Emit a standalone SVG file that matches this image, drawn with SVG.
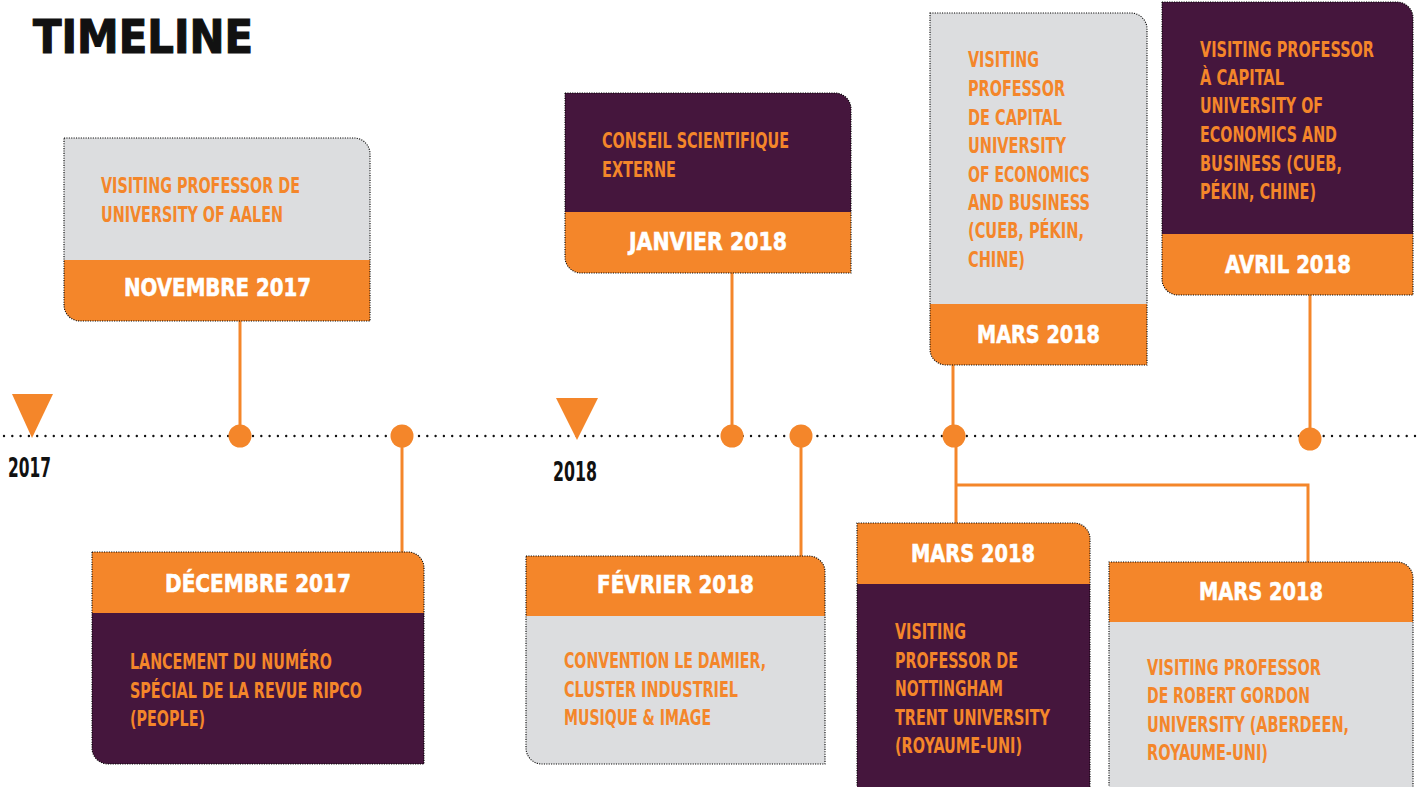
<svg xmlns="http://www.w3.org/2000/svg" width="1423" height="787" viewBox="0 0 1423 787">
<style>
.grey{fill:#DCDDDF}
.purple{fill:#45163D}
.orange{fill:#F4862A}
.border{fill:none;stroke:#000000;stroke-width:1.1;stroke-dasharray:1.1 1.3}
.body{font-family:"Liberation Sans Narrow","DejaVu Sans Condensed","Liberation Sans",sans-serif;font-stretch:condensed;font-weight:bold;font-size:22px;fill:#F4862A}
.date{font-family:"DejaVu Sans","Liberation Sans",sans-serif;font-weight:bold;font-size:24px;fill:#FFFFFF;stroke:#FFFFFF;stroke-width:0.6}
.year{font-family:"Liberation Sans Narrow","DejaVu Sans Condensed","Liberation Sans",sans-serif;font-stretch:condensed;font-weight:bold;font-size:26px;fill:#111111}
.title{font-family:"DejaVu Sans","Liberation Sans",sans-serif;font-weight:bold;font-size:46px;fill:#111111;stroke:#111111;stroke-width:1.2}
.conn{stroke:#F4862A;stroke-width:3;fill:none}
.dot{fill:#F4862A}
.axis{stroke:#111111;stroke-width:2.4;stroke-linecap:round;stroke-dasharray:0 8.3;fill:none}
</style>
<rect width="1423" height="787" fill="#FFFFFF"/>
<text class="title" x="33" y="53" textLength="220" lengthAdjust="spacingAndGlyphs">TIMELINE</text>

<g id="axis">
<line class="axis" x1="4" y1="436" x2="1423" y2="436"/>
<polygon class="dot" points="12,394 53,394 32,438"/>
<polygon class="dot" points="556,398 598,398 577,440"/>
<text class="year" x="8" y="477" textLength="43" lengthAdjust="spacingAndGlyphs">2017</text>
<text class="year" x="553" y="481" textLength="44" lengthAdjust="spacingAndGlyphs">2018</text>
</g>

<g id="connectors">
<line class="conn" x1="240" y1="321" x2="240" y2="436"/>
<line class="conn" x1="402" y1="436" x2="402" y2="552"/>
<line class="conn" x1="732" y1="273" x2="732" y2="436"/>
<line class="conn" x1="801" y1="436" x2="801" y2="556"/>
<line class="conn" x1="953" y1="365" x2="953" y2="436"/>
<polyline class="conn" points="956,436 956,523"/>
<polyline class="conn" points="956,485 1308,485 1308,562"/>
<line class="conn" x1="1310" y1="295" x2="1310" y2="439"/>
<circle class="dot" cx="240" cy="436" r="11.5"/>
<circle class="dot" cx="402" cy="436" r="11.5"/>
<circle class="dot" cx="732" cy="436" r="11.5"/>
<circle class="dot" cx="801" cy="436" r="11.5"/>
<circle class="dot" cx="954" cy="436" r="11.5"/>
<circle class="dot" cx="1310" cy="439" r="11.5"/>
</g>

<g id="nov2017">
<path class="grey" d="M64 138 H354 A16 16 0 0 1 370 154 V260 H64 Z"/>
<path class="orange" d="M64 260 H370 V321 H80 A16 16 0 0 1 64 305 Z"/>
<path class="border" d="M64 138 H354 A16 16 0 0 1 370 154 V321 H80 A16 16 0 0 1 64 305 Z"/>
<text class="body" x="101" y="193" textLength="199" lengthAdjust="spacingAndGlyphs">VISITING PROFESSOR DE</text>
<text class="body" x="101" y="222" textLength="182" lengthAdjust="spacingAndGlyphs">UNIVERSITY OF AALEN</text>
<text class="date" x="124" y="296" textLength="187" lengthAdjust="spacingAndGlyphs">NOVEMBRE 2017</text>
</g>

<g id="dec2017">
<path class="orange" d="M92 552 H408 A16 16 0 0 1 424 568 V613 H92 Z"/>
<path class="purple" d="M92 613 H424 V764 H108 A16 16 0 0 1 92 748 Z"/>
<path class="border" d="M92 552 H408 A16 16 0 0 1 424 568 V764 H108 A16 16 0 0 1 92 748 Z"/>
<text class="date" x="165" y="592" textLength="186" lengthAdjust="spacingAndGlyphs">DÉCEMBRE 2017</text>
<text class="body" x="130" y="669" textLength="202" lengthAdjust="spacingAndGlyphs">LANCEMENT DU NUMÉRO</text>
<text class="body" x="130" y="698" textLength="232" lengthAdjust="spacingAndGlyphs">SPÉCIAL DE LA REVUE RIPCO</text>
<text class="body" x="130" y="726" textLength="75" lengthAdjust="spacingAndGlyphs">(PEOPLE)</text>
</g>

<g id="jan2018">
<path class="purple" d="M565 93 H835 A16 16 0 0 1 851 109 V212 H565 Z"/>
<path class="orange" d="M565 212 H851 V273 H581 A16 16 0 0 1 565 257 Z"/>
<path class="border" d="M565 93 H835 A16 16 0 0 1 851 109 V273 H581 A16 16 0 0 1 565 257 Z"/>
<text class="body" x="602" y="148" textLength="187" lengthAdjust="spacingAndGlyphs">CONSEIL SCIENTIFIQUE</text>
<text class="body" x="602" y="177" textLength="74" lengthAdjust="spacingAndGlyphs">EXTERNE</text>
<text class="date" x="629" y="250" textLength="158" lengthAdjust="spacingAndGlyphs">JANVIER 2018</text>
</g>

<g id="feb2018">
<path class="orange" d="M526 556 H809 A16 16 0 0 1 825 572 V616 H526 Z"/>
<path class="grey" d="M526 616 H825 V764 H542 A16 16 0 0 1 526 748 Z"/>
<path class="border" d="M526 556 H809 A16 16 0 0 1 825 572 V764 H542 A16 16 0 0 1 526 748 Z"/>
<text class="date" x="597" y="593" textLength="157" lengthAdjust="spacingAndGlyphs">FÉVRIER 2018</text>
<text class="body" x="564" y="668" textLength="202" lengthAdjust="spacingAndGlyphs">CONVENTION LE DAMIER,</text>
<text class="body" x="564" y="697" textLength="174" lengthAdjust="spacingAndGlyphs">CLUSTER INDUSTRIEL</text>
<text class="body" x="564" y="725" textLength="147" lengthAdjust="spacingAndGlyphs">MUSIQUE &amp; IMAGE</text>
</g>

<g id="mar2018-cueb">
<path class="grey" d="M930 13 H1131 A16 16 0 0 1 1147 29 V304 H930 Z"/>
<path class="orange" d="M930 304 H1147 V365 H946 A16 16 0 0 1 930 349 Z"/>
<path class="border" d="M930 13 H1131 A16 16 0 0 1 1147 29 V365 H946 A16 16 0 0 1 930 349 Z"/>
<text class="body" x="968" y="67" textLength="71" lengthAdjust="spacingAndGlyphs">VISITING</text>
<text class="body" x="968" y="96" textLength="97" lengthAdjust="spacingAndGlyphs">PROFESSOR</text>
<text class="body" x="968" y="125" textLength="94" lengthAdjust="spacingAndGlyphs">DE CAPITAL</text>
<text class="body" x="968" y="153" textLength="98" lengthAdjust="spacingAndGlyphs">UNIVERSITY</text>
<text class="body" x="968" y="182" textLength="122" lengthAdjust="spacingAndGlyphs">OF ECONOMICS</text>
<text class="body" x="968" y="210" textLength="122" lengthAdjust="spacingAndGlyphs">AND BUSINESS</text>
<text class="body" x="968" y="238" textLength="116" lengthAdjust="spacingAndGlyphs">(CUEB, PÉKIN,</text>
<text class="body" x="968" y="267" textLength="57" lengthAdjust="spacingAndGlyphs">CHINE)</text>
<text class="date" x="977" y="343" textLength="123" lengthAdjust="spacingAndGlyphs">MARS 2018</text>
</g>

<g id="apr2018">
<path class="purple" d="M1162 2 H1397 A16 16 0 0 1 1413 18 V234 H1162 Z"/>
<path class="orange" d="M1162 234 H1413 V295 H1178 A16 16 0 0 1 1162 279 Z"/>
<path class="border" d="M1162 2 H1397 A16 16 0 0 1 1413 18 V295 H1178 A16 16 0 0 1 1162 279 Z"/>
<text class="body" x="1200" y="57" textLength="174" lengthAdjust="spacingAndGlyphs">VISITING PROFESSOR</text>
<text class="body" x="1200" y="85" textLength="84" lengthAdjust="spacingAndGlyphs">À CAPITAL</text>
<text class="body" x="1200" y="113" textLength="123" lengthAdjust="spacingAndGlyphs">UNIVERSITY OF</text>
<text class="body" x="1200" y="142" textLength="137" lengthAdjust="spacingAndGlyphs">ECONOMICS AND</text>
<text class="body" x="1200" y="171" textLength="142" lengthAdjust="spacingAndGlyphs">BUSINESS (CUEB,</text>
<text class="body" x="1200" y="199" textLength="116" lengthAdjust="spacingAndGlyphs">PÉKIN, CHINE)</text>
<text class="date" x="1225" y="273" textLength="126" lengthAdjust="spacingAndGlyphs">AVRIL 2018</text>
</g>

<g id="mar2018-nottingham">
<path class="orange" d="M857 523 H1074 A16 16 0 0 1 1090 539 V584 H857 Z"/>
<path class="purple" d="M857 584 H1090 V800 H857 Z"/>
<path class="border" d="M857 800 V523 H1074 A16 16 0 0 1 1090 539 V800"/>
<text class="date" x="911" y="562" textLength="124" lengthAdjust="spacingAndGlyphs">MARS 2018</text>
<text class="body" x="895" y="639" textLength="71" lengthAdjust="spacingAndGlyphs">VISITING</text>
<text class="body" x="895" y="668" textLength="123" lengthAdjust="spacingAndGlyphs">PROFESSOR DE</text>
<text class="body" x="895" y="696" textLength="108" lengthAdjust="spacingAndGlyphs">NOTTINGHAM</text>
<text class="body" x="895" y="725" textLength="155" lengthAdjust="spacingAndGlyphs">TRENT UNIVERSITY</text>
<text class="body" x="895" y="753" textLength="127" lengthAdjust="spacingAndGlyphs">(ROYAUME-UNI)</text>
</g>

<g id="mar2018-aberdeen">
<path class="orange" d="M1109 562 H1397 A16 16 0 0 1 1413 578 V622 H1109 Z"/>
<path class="grey" d="M1109 622 H1413 V800 H1109 Z"/>
<path class="border" d="M1109 800 V562 H1397 A16 16 0 0 1 1413 578 V800"/>
<text class="date" x="1199" y="600" textLength="124" lengthAdjust="spacingAndGlyphs">MARS 2018</text>
<text class="body" x="1147" y="675" textLength="174" lengthAdjust="spacingAndGlyphs">VISITING PROFESSOR</text>
<text class="body" x="1147" y="703" textLength="163" lengthAdjust="spacingAndGlyphs">DE ROBERT GORDON</text>
<text class="body" x="1147" y="732" textLength="202" lengthAdjust="spacingAndGlyphs">UNIVERSITY (ABERDEEN,</text>
<text class="body" x="1147" y="760" textLength="121" lengthAdjust="spacingAndGlyphs">ROYAUME-UNI)</text>
</g>
</svg>
